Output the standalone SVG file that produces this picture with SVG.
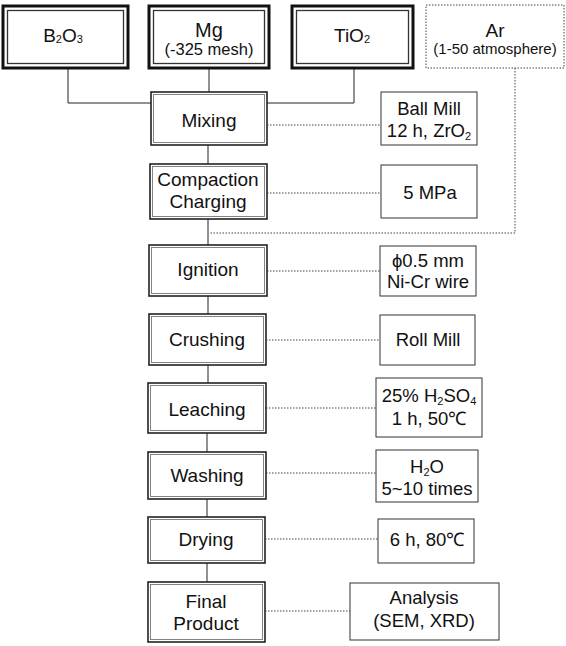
<svg xmlns="http://www.w3.org/2000/svg" width="566" height="646" viewBox="0 0 566 646">
<style>
text{font-family:"Liberation Sans",Arial,sans-serif;fill:#111;text-anchor:middle}
.p{font-size:19px}
.s{font-size:18.5px}
.sm{font-size:15px}
.sub{font-size:11px}
.outer{fill:#fff;stroke:#111;stroke-width:3}
.inner{fill:none;stroke:#333;stroke-width:1.3}
.pb{fill:#fff;stroke:#222;stroke-width:1.6}
.pbi{fill:none;stroke:#777;stroke-width:0.9}
.sb{fill:#fff;stroke:#333;stroke-width:1}
.dot{fill:none;stroke:#444;stroke-width:1;stroke-dasharray:1.5 1.5}
.ln{fill:none;stroke:#222;stroke-width:1}
</style>
<g id="connectors">
<path class="ln" d="M68 68 V103 H151"/>
<path class="ln" d="M209 68 V92"/>
<path class="ln" d="M354 68 V103 H267"/>
<path class="ln" d="M208 145 V164"/>
<path class="ln" d="M208 219 V245"/>
<path class="ln" d="M208 296 V314"/>
<path class="ln" d="M208 365 V383"/>
<path class="ln" d="M207 433 V452"/>
<path class="ln" d="M207 499 V517"/>
<path class="ln" d="M207 563 V582"/>
<path class="dot" d="M515 68 V233 H210"/>
<path class="dot" d="M267 125 H381"/>
<path class="dot" d="M267 193 H381"/>
<path class="dot" d="M267 271 H380"/>
<path class="dot" d="M266 340 H380"/>
<path class="dot" d="M266 408 H376"/>
<path class="dot" d="M266 473 H376"/>
<path class="dot" d="M265 539 H378"/>
<path class="dot" d="M265 611 H350"/>
</g>
<g id="b2o3">
<rect class="outer" x="3" y="6" width="125" height="62"/>
<rect class="inner" x="7.5" y="10.5" width="116" height="53"/>
<text class="p" x="63" y="42">B<tspan class="sub" dy="1">2</tspan><tspan dy="-1">O</tspan><tspan class="sub" dy="1">3</tspan></text>
</g>
<g id="mg">
<rect class="outer" x="149" y="6" width="120" height="62"/>
<rect class="inner" x="153.5" y="10.5" width="111" height="53"/>
<text x="209" y="37" style="font-size:20px">Mg</text>
<text class="sm" x="209" y="55" style="font-size:16.5px">(-325 mesh)</text>
</g>
<g id="tio2">
<rect class="outer" x="292" y="6" width="121" height="62"/>
<rect class="inner" x="296.5" y="10.5" width="112" height="53"/>
<text class="p" x="352" y="42">TiO<tspan class="sub" dy="1">2</tspan></text>
</g>
<g id="ar">
<rect class="dot" x="426" y="5" width="138" height="63"/>
<text x="495" y="37" style="font-size:19px">Ar</text>
<text class="sm" x="495" y="54">(1-50 atmosphere)</text>
</g>
<g id="mixing">
<rect class="pb" x="151" y="92" width="116" height="53"/>
<rect class="pbi" x="153.5" y="94.5" width="111" height="48"/>
<text class="p" x="209" y="127">Mixing</text>
</g>
<g id="ballmill">
<rect class="sb" x="381" y="92" width="96" height="53"/>
<text class="s" x="429" y="115">Ball Mill</text>
<text class="s" x="429" y="137">12 h, ZrO<tspan class="sub" dy="3">2</tspan></text>
</g>
<g id="compaction">
<rect class="pb" x="150" y="164" width="117" height="55"/>
<rect class="pbi" x="152.5" y="166.5" width="112" height="50"/>
<text class="p" x="208" y="186">Compaction</text>
<text class="p" x="208" y="208">Charging</text>
</g>
<g id="mpa">
<rect class="sb" x="381" y="165" width="96" height="53"/>
<text class="s" x="430" y="199">5 MPa</text>
</g>
<g id="ignition">
<rect class="pb" x="149" y="245" width="118" height="51"/>
<rect class="pbi" x="151.5" y="247.5" width="113" height="46"/>
<text class="p" x="208" y="276">Ignition</text>
</g>
<g id="wire">
<rect class="sb" x="380" y="246" width="96" height="50"/>
<text class="s" x="428" y="267">ϕ0.5 mm</text>
<text class="s" x="428" y="288">Ni-Cr wire</text>
</g>
<g id="crushing">
<rect class="pb" x="149" y="314" width="117" height="51"/>
<rect class="pbi" x="151.5" y="316.5" width="112" height="46"/>
<text class="p" x="207" y="346">Crushing</text>
</g>
<g id="rollmill">
<rect class="sb" x="380" y="315" width="95" height="50"/>
<text class="s" x="428" y="346">Roll Mill</text>
</g>
<g id="leaching">
<rect class="pb" x="148" y="383" width="118" height="50"/>
<rect class="pbi" x="150.5" y="385.5" width="113" height="45"/>
<text class="p" x="207" y="416">Leaching</text>
</g>
<g id="h2so4">
<rect class="sb" x="376" y="378" width="106" height="59"/>
<text class="s" x="429" y="402">25% H<tspan class="sub" dy="3">2</tspan><tspan dy="-3">SO</tspan><tspan class="sub" dy="3">4</tspan></text>
<text class="s" x="429" y="425">1 h, 50℃</text>
</g>
<g id="washing">
<rect class="pb" x="148" y="452" width="118" height="47"/>
<rect class="pbi" x="150.5" y="454.5" width="113" height="42"/>
<text class="p" x="207" y="482">Washing</text>
</g>
<g id="h2o">
<rect class="sb" x="376" y="450" width="102" height="52"/>
<text class="s" x="427" y="473">H<tspan class="sub" dy="3">2</tspan><tspan dy="-3">O</tspan></text>
<text class="s" x="427" y="495">5~10 times</text>
</g>
<g id="drying">
<rect class="pb" x="148" y="517" width="117" height="46"/>
<rect class="pbi" x="150.5" y="519.5" width="112" height="41"/>
<text class="p" x="206" y="546">Drying</text>
</g>
<g id="dry-cond">
<rect class="sb" x="378" y="519" width="96" height="44"/>
<text class="s" x="427" y="546">6 h, 80℃</text>
</g>
<g id="final">
<rect class="pb" x="148" y="582" width="117" height="60"/>
<rect class="pbi" x="150.5" y="584.5" width="112" height="55"/>
<text class="p" x="206" y="608">Final</text>
<text class="p" x="206" y="630">Product</text>
</g>
<g id="analysis">
<rect class="sb" x="350" y="583" width="149" height="57"/>
<text class="s" x="424" y="604">Analysis</text>
<text class="s" x="424" y="627">(SEM, XRD)</text>
</g>
</svg>
